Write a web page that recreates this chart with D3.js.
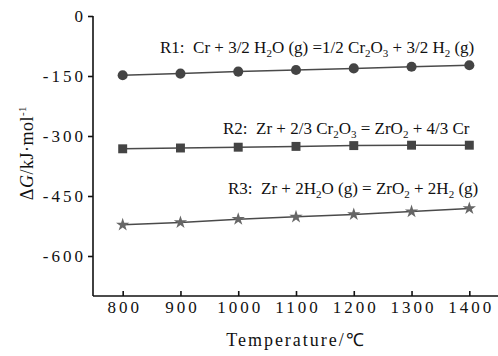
<!DOCTYPE html>
<html><head><meta charset="utf-8">
<script src="https://cdn.jsdelivr.net/npm/d3@7"></script>
<style>body{margin:0;background:#fff}svg{display:block}text{font-family:"Liberation Serif","Times New Roman",serif;fill:#111}</style>
</head><body><div id="chart"></div>
<script>
const temperatures = [800, 900, 1000, 1100, 1200, 1300, 1400];
const r1Values = [-148, -144, -139, -135, -131, -127, -123];
const r2Values = [-332, -330, -328, -326, -324, -323, -323];
const r3Values = [-522, -516, -508, -502, -496, -489, -481];
const yTicks = [0, -150, -300, -450, -600];
const xTicks = [800, 900, 1000, 1100, 1200, 1300, 1400];

const W = 498, H = 356;
const svg = d3.select("#chart").append("svg").attr("width", W).attr("height", H);
const x = d3.scaleLinear().domain([750, 1450]).range([93.8, 498.2]);
const y = d3.scaleLinear().domain([-700, 0]).range([296, 16]);
const x0 = 93;

// axes
const yAxis = d3.axisLeft(y).tickValues(yTicks).tickSize(5).tickSizeOuter(0).tickPadding(2).tickFormat(d => String(d));
const gy = svg.append("g").attr("transform", `translate(${x0},0)`).call(yAxis);
const xAxis = d3.axisBottom(x).tickValues(xTicks).tickSize(-5).tickSizeOuter(0).tickPadding(5).tickFormat(d => String(d));
const gx = svg.append("g").attr("transform", `translate(0,${y(-700)})`).call(xAxis);
[gx, gy].forEach(g => {
  g.select(".domain").attr("stroke", "#111").attr("stroke-width", 1.6);
  g.selectAll(".tick line").attr("stroke", "#111").attr("stroke-width", 1.6);
  g.selectAll(".tick text").style("font-size", "17px").attr("fill", "#111").style("letter-spacing", "3px").style("font-family", '"Liberation Serif",serif');
});
gx.selectAll(".tick text").attr("dx", 1.5);
gx.select(".domain").attr("d", `M${x0},0H${W}`);
gy.select(".domain").attr("d", `M0,${y(0)}V${y(-700)}`);

const series = [
  {vals: r1Values, shape: d3.symbolCircle, size: 80, color: "#444"},
  {vals: r2Values, shape: d3.symbolSquare, size: 80, color: "#444"},
  {vals: r3Values, shape: d3.symbolStar, size: 55, color: "#666"}
];
const line = d3.line().x((d, i) => x(temperatures[i])).y(d => y(d));
series.forEach(s => {
  svg.append("path").datum(s.vals).attr("d", line).attr("fill", "none").attr("stroke", "#4a4a4a").attr("stroke-width", 1.5);
  svg.selectAll(null).data(s.vals).enter().append("path")
    .attr("d", d3.symbol().type(s.shape).size(s.size))
    .attr("transform", (d, i) => `translate(${x(temperatures[i])},${y(d)})`)
    .attr("fill", s.color);
});

function eq(xp, yp, parts) {
  const t = svg.append("text").attr("x", xp).attr("y", yp).style("font-size", "17px").attr("xml:space", "preserve");
  let sub = false;
  parts.forEach(([s, k]) => {
    const ts = t.append("tspan").text(s);
    if (k === "s") { ts.style("font-size", "11px"); if (!sub) { ts.attr("dy", 4); sub = true; } }
    else if (sub) { ts.attr("dy", -4); sub = false; }
  });
  return t;
}
eq(160, 53, [["R1:  Cr + 3/2 H","n"],["2","s"],["O (g) =1/2 Cr","n"],["2","s"],["O","n"],["3","s"],[" + 3/2 H","n"],["2","s"],[" (g)","n"]]);
eq(223, 134, [["R2:  Zr + 2/3 Cr","n"],["2","s"],["O","n"],["3","s"],[" = ZrO","n"],["2","s"],[" + 4/3 Cr","n"]]);
eq(228, 194, [["R3:  Zr + 2H","n"],["2","s"],["O (g) = ZrO","n"],["2","s"],[" + 2H","n"],["2","s"],[" (g)","n"]]);

// axis titles
const yl = svg.append("text").attr("transform", "translate(33,153) rotate(-90)").attr("text-anchor", "middle").style("font-size", "18px").style("letter-spacing", "0.5px");
yl.append("tspan").text("Δ");
yl.append("tspan").text("G").style("font-style", "italic");
yl.append("tspan").text("/kJ·mol");
yl.append("tspan").text("-1").attr("dy", -7).style("font-size", "11px");

svg.append("text").attr("x", 296).attr("y", 346).attr("text-anchor", "middle").style("font-size", "18px").style("letter-spacing", "2px").text("Temperature/℃");
</script></body></html>
